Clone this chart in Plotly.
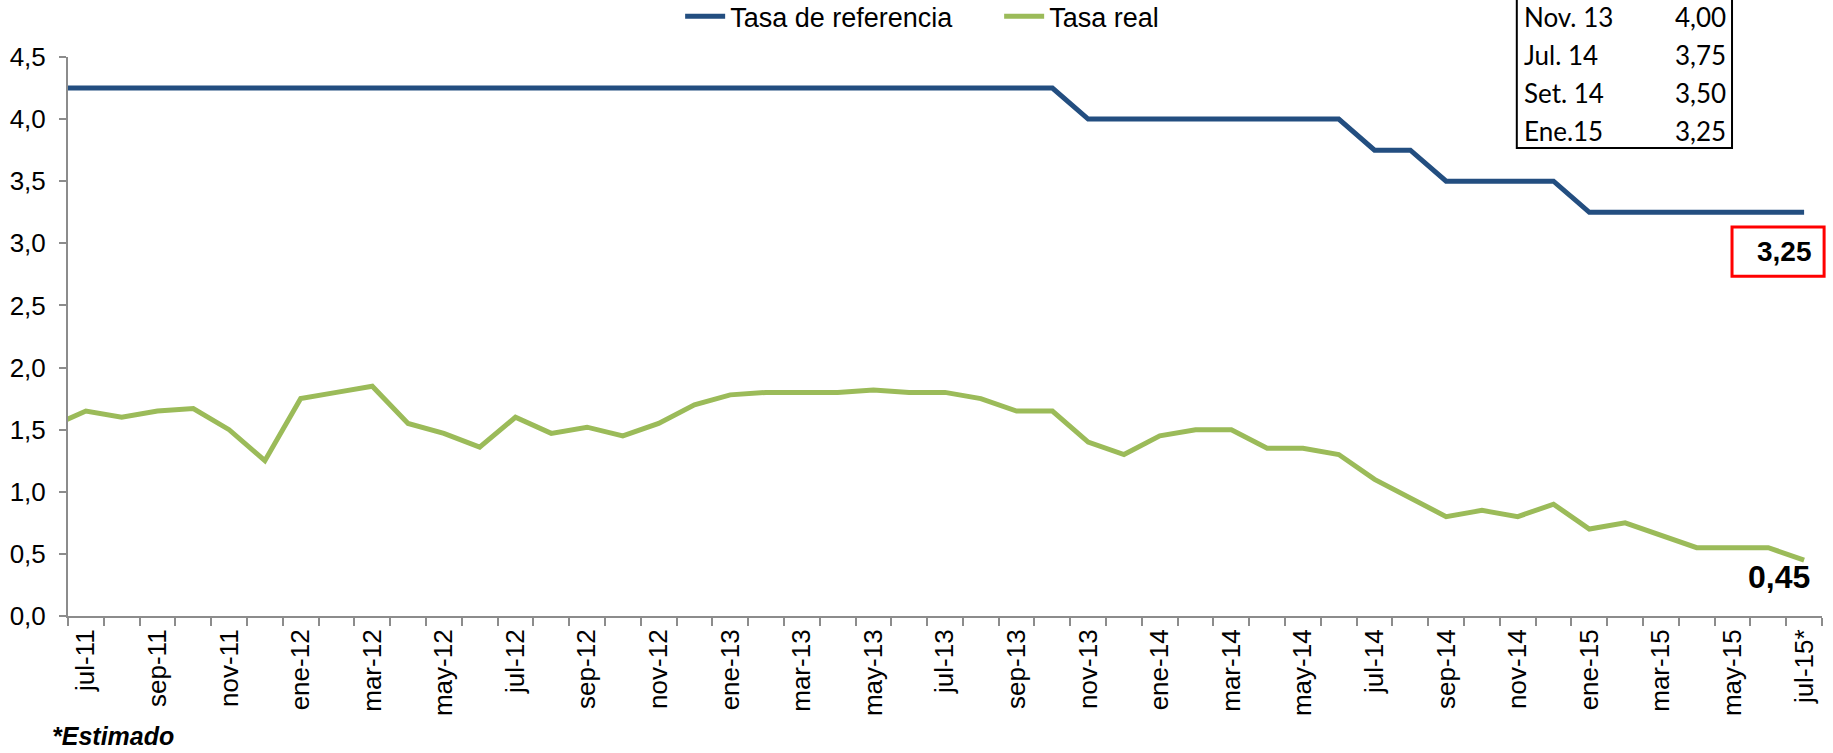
import plotly.graph_objects as go

# Monthly categories (jun-11 is only partially visible, clipped at the y-axis)
months = ["jun-11", "jul-11", "ago-11", "sep-11", "oct-11", "nov-11", "dic-11",
          "ene-12", "feb-12", "mar-12", "abr-12", "may-12", "jun-12", "jul-12",
          "ago-12", "sep-12", "oct-12", "nov-12", "dic-12",
          "ene-13", "feb-13", "mar-13", "abr-13", "may-13", "jun-13", "jul-13",
          "ago-13", "sep-13", "oct-13", "nov-13", "dic-13",
          "ene-14", "feb-14", "mar-14", "abr-14", "may-14", "jun-14", "jul-14",
          "ago-14", "sep-14", "oct-14", "nov-14", "dic-14",
          "ene-15", "feb-15", "mar-15", "abr-15", "may-15", "jun-15", "jul-15*"]

tasa_referencia = [4.25, 4.25, 4.25, 4.25, 4.25, 4.25, 4.25,
                   4.25, 4.25, 4.25, 4.25, 4.25, 4.25, 4.25,
                   4.25, 4.25, 4.25, 4.25, 4.25,
                   4.25, 4.25, 4.25, 4.25, 4.25, 4.25, 4.25,
                   4.25, 4.25, 4.25, 4.00, 4.00,
                   4.00, 4.00, 4.00, 4.00, 4.00, 4.00, 3.75,
                   3.75, 3.50, 3.50, 3.50, 3.50,
                   3.25, 3.25, 3.25, 3.25, 3.25, 3.25, 3.25]

tasa_real = [1.52, 1.65, 1.60, 1.65, 1.67, 1.50, 1.25,
             1.75, 1.80, 1.85, 1.55, 1.47, 1.36, 1.60,
             1.47, 1.52, 1.45, 1.55, 1.70,
             1.78, 1.80, 1.80, 1.80, 1.82, 1.80, 1.80,
             1.75, 1.65, 1.65, 1.40, 1.30,
             1.45, 1.50, 1.50, 1.35, 1.35, 1.30, 1.10,
             0.95, 0.80, 0.85, 0.80, 0.90,
             0.70, 0.75, 0.65, 0.55, 0.55, 0.55, 0.45]

# Inset table of policy-rate changes
table_labels = ["Nov. 13", "Jul. 14", "Set. 14", "Ene.15"]
table_values = ["4,00", "3,75", "3,50", "3,25"]

BLUE = "#234E80"
GREEN = "#9BBB59"
AXIS = "#8C8C8C"
FONT = "Liberation Sans"

xs = list(range(len(months)))
label_idx = [i for i in xs if i % 2 == 1]
label_txt = [months[i] for i in label_idx]
boundaries = [i + 0.5 for i in range(len(months))]

fig = go.Figure()
fig.add_trace(go.Scatter(x=xs, y=tasa_referencia, mode="lines", name="Tasa de referencia",
                         line=dict(color=BLUE, width=5)))
fig.add_trace(go.Scatter(x=xs, y=tasa_real, mode="lines", name="Tasa real",
                         line=dict(color=GREEN, width=5)))

fig.update_layout(
    width=1833, height=753,
    margin=dict(l=68, r=11, t=57, b=137, autoexpand=False),
    paper_bgcolor="white", plot_bgcolor="white",
    separators=",.",
    font=dict(family=FONT, color="black"),
    showlegend=True,
    legend=dict(orientation="h", x=0.349, xanchor="left", y=1.072, yanchor="middle",
                font=dict(size=27, family=FONT), itemwidth=40, tracegroupgap=0,
                entrywidth=264, entrywidthmode="pixels",
                bgcolor="rgba(0,0,0,0)"),
    xaxis=dict(range=[0.5, len(months) - 0.5], showgrid=False, zeroline=False,
               showline=True, linecolor=AXIS, linewidth=2, automargin=False,
               tickmode="array", tickvals=label_idx, ticktext=label_txt,
               ticks="", tickangle=-90, tickfont=dict(size=26, family=FONT),
               ticklabelstandoff=1,
               minor=dict(tickmode="array", tickvals=boundaries, ticks="outside",
                          ticklen=8, tickwidth=2, tickcolor=AXIS)),
    yaxis=dict(range=[0, 4.5], showgrid=False, zeroline=False, automargin=False,
               showline=True, linecolor=AXIS, linewidth=2,
               tickmode="linear", tick0=0, dtick=0.5, tickformat=".1f",
               ticks="outside", ticklen=7, tickwidth=2, tickcolor=AXIS,
               tickfont=dict(size=26, family=FONT), ticklabelstandoff=8),
)

# Inset table
fig.add_shape(type="rect", xref="paper", yref="paper", x0=0.826, x1=0.9487, y0=0.837, y1=1.2,
              line=dict(color="black", width=2), fillcolor="white", layer="above")
row_y = [1.0716, 1.0036, 0.9356, 0.8676]
for lab, val, yy in zip(table_labels, table_values, row_y):
    fig.add_annotation(xref="paper", yref="paper", x=0.829, y=yy, text=lab, showarrow=False,
                       xanchor="left", yanchor="middle", font=dict(size=26, family="Lato"))
    fig.add_annotation(xref="paper", yref="paper", x=0.9464, y=yy, text=val, showarrow=False,
                       xanchor="right", yanchor="middle", font=dict(size=26, family="Lato"))

# Highlighted last reference rate
fig.add_shape(type="rect", xref="paper", yref="paper", x0=0.9487, x1=1.0012, y0=0.608, y1=0.696,
              line=dict(color="#FF0000", width=3), fillcolor="rgba(0,0,0,0)")
fig.add_annotation(xref="paper", yref="paper", x=0.9954, y=0.652,
                   text="<b>" + f"{tasa_referencia[-1]:.2f}".replace(".", ",") + "</b>",
                   showarrow=False, xanchor="right", yanchor="middle",
                   font=dict(size=28, family=FONT))

# Last real rate label
fig.add_annotation(x=xs[-1], y=tasa_real[-1],
                   text="<b>" + f"{tasa_real[-1]:.2f}".replace(".", ",") + "</b>",
                   showarrow=False, xanchor="right", yanchor="middle", xshift=8, yshift=-17,
                   font=dict(size=32, family=FONT))

# Footnote
fig.add_annotation(xref="paper", yref="paper", x=-0.010, y=-0.214, text="<b><i>*Estimado</i></b>",
                   showarrow=False, xanchor="left", yanchor="middle", font=dict(size=25, family=FONT))

fig.write_html("out.html", config={"displayModeBar": False},
               post_script="document.body.style.margin='0';document.body.style.overflow='hidden';")
